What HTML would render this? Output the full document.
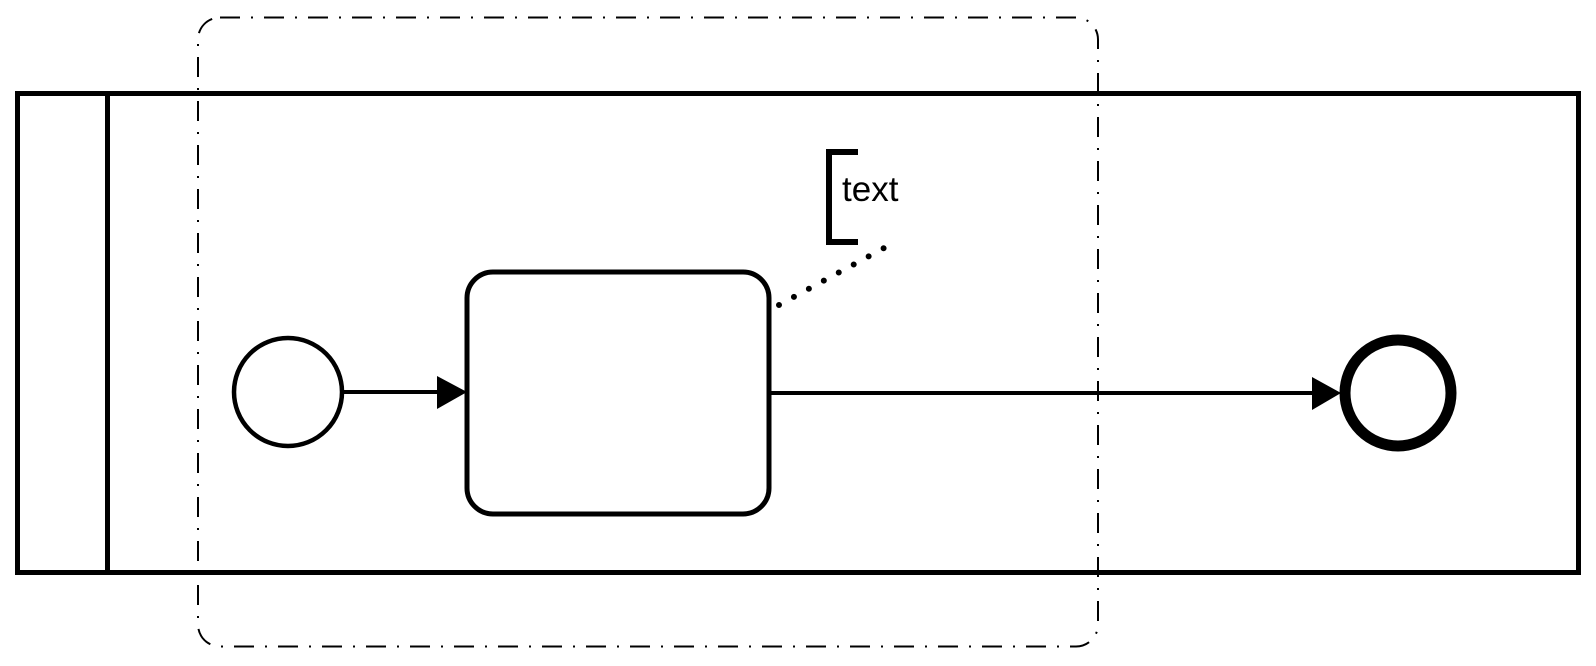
<!DOCTYPE html>
<html><head><meta charset="utf-8"><style>html,body{margin:0;padding:0;background:#fff}svg{display:block}</style></head>
<body>
<svg width="1596" height="666" viewBox="0 0 1596 666" xmlns="http://www.w3.org/2000/svg">
<rect x="0" y="0" width="1596" height="666" fill="#fff"/>
<rect x="17.5" y="93.5" width="1561" height="479" fill="none" stroke="#000" stroke-width="5"/>
<line x1="107.5" y1="93" x2="107.5" y2="573" stroke="#000" stroke-width="5"/>
<rect x="198" y="17.5" width="900" height="629" rx="22" ry="22" fill="none" stroke="#000" stroke-width="2" stroke-dasharray="20 11 2 11"/>
<circle cx="288" cy="392" r="54" fill="#fff" stroke="#000" stroke-width="4.5"/>
<rect x="467" y="272" width="302" height="242" rx="26" ry="26" fill="#fff" stroke="#000" stroke-width="5"/>
<line x1="342" y1="392" x2="440" y2="392" stroke="#000" stroke-width="4"/>
<polygon points="437,376 467,392 437,409" fill="#000"/>
<line x1="769" y1="393" x2="1315" y2="393" stroke="#000" stroke-width="4"/>
<polygon points="1312,377 1341,393 1312,410" fill="#000"/>
<circle cx="1398" cy="393" r="53" fill="#fff" stroke="#000" stroke-width="11"/>
<path d="M858 152 H829 V242 H858" fill="none" stroke="#000" stroke-width="6"/>
<text x="842" y="201" font-family="Liberation Sans, sans-serif" font-size="35">text</text>
<line x1="779" y1="305" x2="884" y2="248" stroke="#000" stroke-width="6" stroke-linecap="round" stroke-dasharray="0 17"/>
</svg>
</body></html>
